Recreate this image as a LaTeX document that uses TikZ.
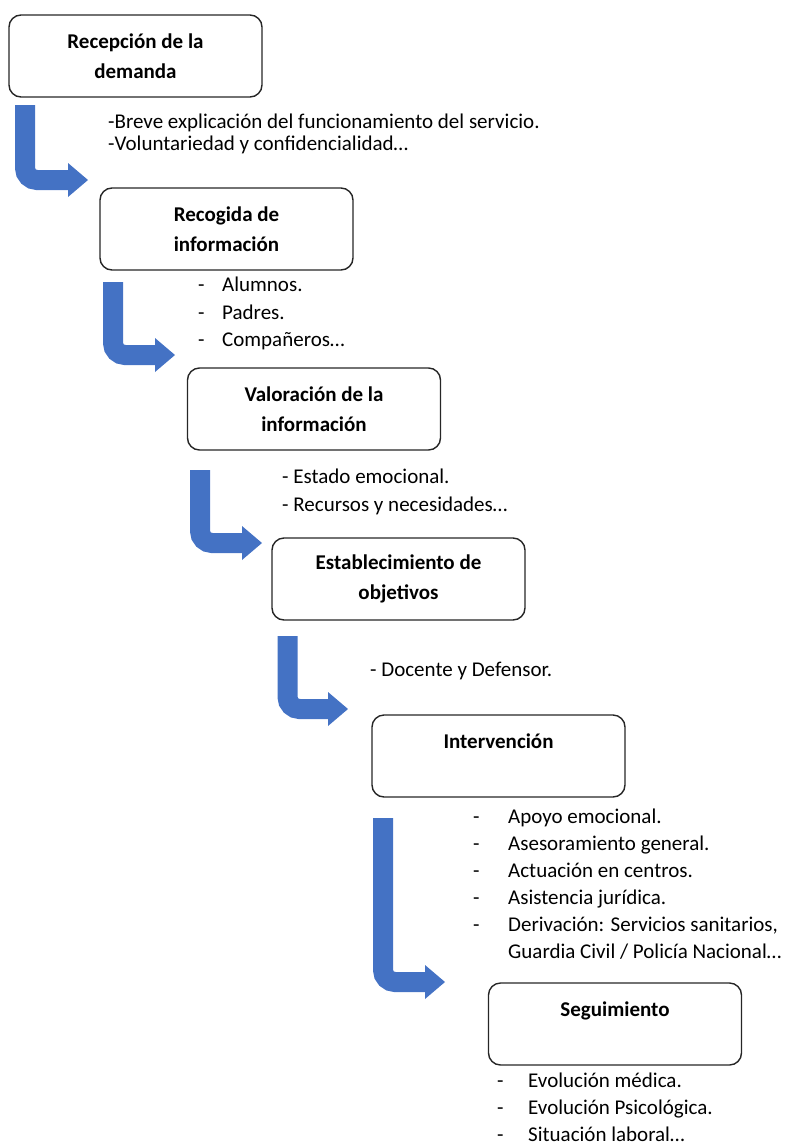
\documentclass[tikz,border=0pt]{standalone}
\usepackage{fontspec}
\setmainfont{Carlito}
\usetikzlibrary{positioning, arrows.meta}
\definecolor{AzulFlecha}{RGB}{68,114,196}

\begin{document}
\begin{tikzpicture}[x=1pt, y=-1pt]
  \tikzstyle{paso} = [rectangle, draw=black!85, line width=1.4pt, rounded corners=12pt,
    minimum width=253pt, minimum height=82pt, align=center, font=\fontsize{21}{30}\selectfont\bfseries]
  \tikzstyle{lista} = [anchor=base west, inner sep=0pt, font=\fontsize{21}{26}\selectfont]
  \tikzstyle{flecha} = [draw=AzulFlecha, line width=20pt, rounded corners=12pt,
    -{Triangle[length=20pt, width=34pt, line width=0pt 0]}]

  \useasboundingbox (0,0) rectangle (793,1146);

  % Pasos del proceso
  \node[paso] (b1) at (135.5,56)  {Recepción de la\\demanda};
  \node[paso] (b2) at (226.5,229) {Recogida de\\información};
  \node[paso] (b3) at (314,409)   {Valoración de la\\información};
  \node[paso] (b4) at (398.5,579) {Establecimiento de\\objetivos};
  \node[paso] (b5) at (498.5,756) {Intervención\\\mbox{}};
  \node[paso] (b6) at (615,1024)  {Seguimiento\\\mbox{}};

  % Flechas entre pasos
  \coordinate (fa1) at (25,105);    \coordinate (fb1) at (88,180);
  \coordinate (fa2) at (113,282);   \coordinate (fb2) at (175,355);
  \coordinate (fa3) at (200,470);   \coordinate (fb3) at (262,543);
  \coordinate (fa4) at (287.5,636); \coordinate (fb4) at (348,709);
  \coordinate (fa5) at (383,818);   \coordinate (fb5) at (445,982);
  \foreach \n in {1,...,5}
    \draw[flecha] (fa\n) |- (fb\n);

  % Recepcion
  \foreach \linea [count=\i] in {-Breve explicación del funcionamiento del servicio., -Voluntariedad y confidencialidad…}
    \node[lista] (t1\i) at (108, 106+22*\i) {\linea};

  % Recogida
  \foreach \linea [count=\i] in {Alumnos., Padres., Compañeros…}
    \node[lista] (t2\i) at (198, 264+27.5*\i) {\makebox[24pt][l]{-}\linea};

  % Valoracion
  \foreach \linea [count=\i] in {- Estado emocional., - Recursos y necesidades…}
    \node[lista] (t3\i) at (282, 455+28*\i) {\linea};

  % Objetivos
  \node[lista] (t41) at (370,676) {- Docente y Defensor.};

  % Intervencion
  \foreach \linea [count=\i] in {Apoyo emocional., Asesoramiento general., Actuación en centros., Asistencia jurídica., {Derivación: Servicios sanitarios,}}
    \node[lista] (t5\i) at (473, 796+27*\i) {\makebox[35pt][l]{-}\linea};
  \node[lista] (t56) at (508,958) {Guardia Civil / Policía Nacional…};

  % Seguimiento
  \foreach \linea [count=\i] in {Evolución médica., Evolución Psicológica., Situación laboral…}
    \node[lista] (t6\i) at (497, 1060+27*\i) {\makebox[31pt][l]{-}\linea};
\end{tikzpicture}
\end{document}
